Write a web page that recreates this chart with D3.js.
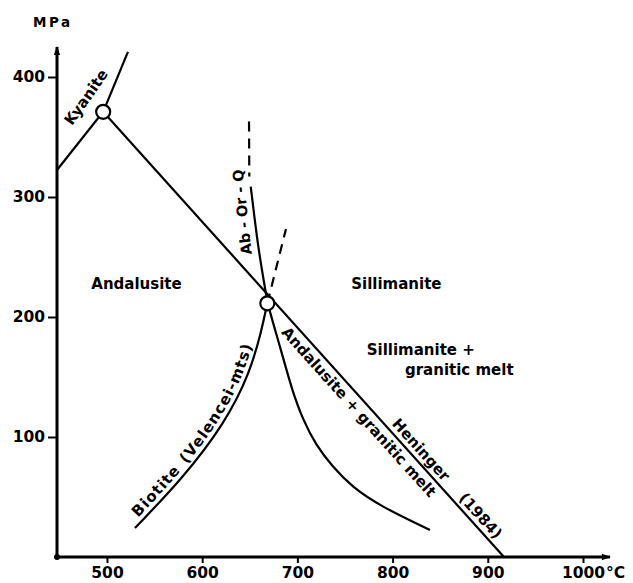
<!DOCTYPE html>
<html>
<head>
<meta charset="utf-8">
<script src="https://cdn.jsdelivr.net/npm/d3@7"></script>
<style>
body { margin: 0; background: #fff; }
text { font-family: "DejaVu Sans", sans-serif; font-weight: bold; fill: #000; }
</style>
</head>
<body>
<div id="chart"></div>
<script>
// tick labels
var xTicks = [500, 600, 700, 800, 900, 1000];
var yTicks = [100, 200, 300, 400];

// invariant points (T in C, P in MPa)
var triplePoint = [496, 371];
var meltPoint = [668.4, 211.4];

// aluminosilicate boundaries
var kyAndT = [447.5, 496], kyAndP = [322.5, 371];
var kySilT = [496, 522], kySilP = [371, 421];
var andSilT = [496, 917], andSilP = [371, 0];

// biotite (Velencei-mts) curve
var bioT = [529.4, 579.8, 624, 650.2, 662.5, 668.4];
var bioP = [24.2, 65.8, 111.7, 153.3, 189.2, 211.4];
var bioDashT = [668.4, 688];
var bioDashP = [211.4, 273.3];

// Ab-Or-Q solidus
var qtzT = [651, 659, 667, 668.4, 682.8, 694.3, 705.9, 719.5, 736.3, 757.4, 786.8, 839.3];
var qtzP = [308.6, 255.8, 220, 211.4, 172.5, 139.2, 114.2, 93.3, 75.8, 58.3, 42.5, 22.5];
var qtzDashT = [649.2, 649.5];
var qtzDashP = [363, 317];

var W = 633, H = 583;
var svg = d3.select("#chart").append("svg")
    .attr("width", W)
    .attr("height", H);

var x = d3.scaleLinear().domain([447.5, 1000]).range([57, 583]);
var y = d3.scaleLinear().domain([0, 400]).range([557, 77]);

function pts(T, P) { return T.map(function(t, i) { return [t, P[i]]; }); }
var straight = d3.line().x(function(d) { return x(d[0]); }).y(function(d) { return y(d[1]); });
var smooth = d3.line().x(function(d) { return x(d[0]); }).y(function(d) { return y(d[1]); })
    .curve(d3.curveBasis);

// arrow heads
var defs = svg.append("defs");
defs.append("marker").attr("id", "arrow")
    .attr("viewBox", "0 0 10 10").attr("refX", 9).attr("refY", 5)
    .attr("markerWidth", 6).attr("markerHeight", 3)
    .attr("markerUnits", "strokeWidth")
    .attr("orient", "auto")
  .append("path").attr("d", "M0,1.5 L10,5 L0,8.5 Z").attr("fill", "#000");

// axes
var yAxis = d3.axisLeft(y).tickValues(yTicks).tickSize(9).tickPadding(3).tickFormat(d3.format("d"));
var gy = svg.append("g").attr("transform", "translate(" + x.range()[0] + ",0)").call(yAxis);
var xAxis = d3.axisBottom(x).tickValues(xTicks).tickSize(6).tickPadding(4).tickFormat(d3.format("d"));
var gx = svg.append("g").attr("transform", "translate(0," + y(0) + ")").call(xAxis);
[gx, gy].forEach(function(g) {
  g.select(".domain").remove();
  g.selectAll(".tick line").attr("stroke", "#000").attr("stroke-width", 2);
  g.selectAll(".tick text").attr("fill", "#000")
    .style("font-size", "15.5px").style("font-family", "DejaVu Sans").style("font-weight", "bold");
});

svg.append("line")
    .attr("x1", x.range()[0]).attr("y1", y(0))
    .attr("x2", x.range()[0]).attr("y2", y(400) - 30)
    .attr("stroke", "#000").attr("stroke-width", 3)
    .attr("marker-end", "url(#arrow)");
svg.append("line")
    .attr("x1", x.range()[0]).attr("y1", y(0))
    .attr("x2", x(1000) + 27).attr("y2", y(0))
    .attr("stroke", "#000").attr("stroke-width", 3)
    .attr("marker-end", "url(#arrow)");
svg.append("circle").attr("cx", x.range()[0]).attr("cy", y(0)).attr("r", 3).attr("fill", "#000");

svg.append("text").attr("x", 33).attr("y", 27)
    .style("font-size", "13.5px").style("letter-spacing", "2.5px").text("MPa");
svg.append("text").attr("x", x(1000) + 23).attr("y", y(0) + 21)
    .style("font-size", "15.5px").text("°C");

// boundary lines
function drawLine(data, gen, dashed, id) {
  var p = svg.append("path").datum(data)
      .attr("d", gen)
      .attr("fill", "none").attr("stroke", "#000").attr("stroke-width", 2.2);
  if (dashed) p.attr("stroke-dasharray", "10,7");
  if (id) p.attr("id", id);
  return p;
}
drawLine(pts(kyAndT, kyAndP), straight);
drawLine(pts(kySilT, kySilP), straight);
drawLine(pts(andSilT, andSilP), straight, false, "andSil");
drawLine(pts(bioT, bioP), smooth, false, "bio");
drawLine(pts(bioDashT, bioDashP), straight, true);
drawLine(pts(qtzT, qtzP), smooth);
drawLine(pts(qtzDashT, qtzDashP), straight, true);

// invariant points
svg.selectAll("circle.inv").data([triplePoint, meltPoint]).enter()
  .append("circle").attr("class", "inv")
    .attr("cx", function(d) { return x(d[0]); })
    .attr("cy", function(d) { return y(d[1]); })
    .attr("r", 7).attr("fill", "#fff").attr("stroke", "#000").attr("stroke-width", 2.2);

// field labels
function label(t, p, txt, anchor) {
  return svg.append("text").attr("x", x(t)).attr("y", y(p)).attr("dy", "0.36em")
      .attr("text-anchor", anchor || "middle")
      .style("font-size", "15px").text(txt);
}
label(531, 227.5, "Andalusite");
label(804, 228, "Sillimanite");
label(772.8, 172.5, "Sillimanite +", "start");
label(813, 156, "granitic  melt", "start");

function rotLabel(t, p, ang, txt, size) {
  svg.append("text")
      .attr("transform", "translate(" + x(t) + "," + y(p) + ") rotate(" + ang + ")")
      .attr("text-anchor", "middle").attr("dy", "0.36em")
      .style("font-size", size + "px").text(txt);
}
rotLabel(477.9, 383.3, -55, "Kyanite", 15);
rotLabel(641.8, 287.5, -96, "Ab - Or - Q", 14.5);

// labels along curves
function pathLabel(id, offset, dy, txt, spacing) {
  svg.append("text").style("font-size", "15px").style("letter-spacing", (spacing || 0) + "px")
    .append("textPath").attr("href", "#" + id).attr("startOffset", offset)
    .append("tspan").attr("dy", dy).text(txt);
}
pathLabel("bio", 10, -5, "Biotite", 1);
pathLabel("bio", 82, -5, "(Velencei-mts)", 1.2);
pathLabel("andSil", 283, 16, "Andalusite + granitic  melt");
pathLabel("andSil", 425, -5, "Heninger");
pathLabel("andSil", 525, -5, "(1984)");
</script>
</body>
</html>
